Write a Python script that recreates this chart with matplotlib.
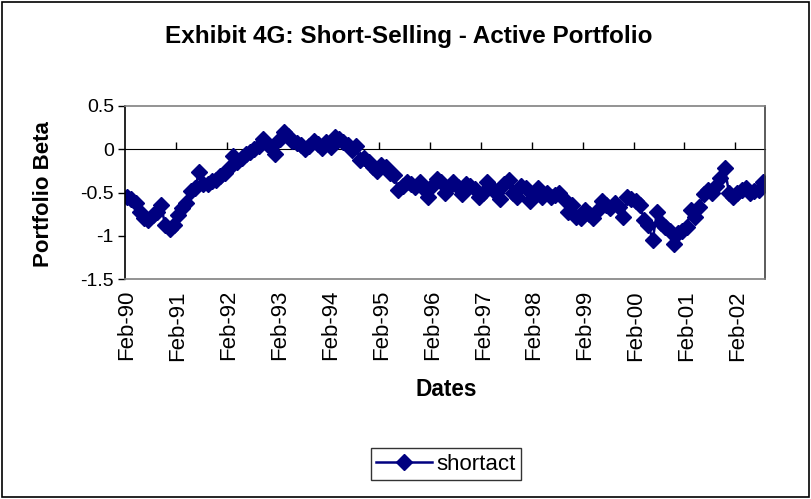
import matplotlib
matplotlib.use("Agg")
import matplotlib.pyplot as plt
from matplotlib.patches import Rectangle
import numpy as np

plt.rcParams['font.family'] = ['Liberation Sans', 'DejaVu Sans']
plt.rcParams['axes.unicode_minus'] = False

title = "Exhibit 4G: Short-Selling - Active Portfolio"
series_name = "shortact"
x_label = "Dates"
y_label = "Portfolio Beta"

# Monthly portfolio beta, Feb-90 .. Aug-02 (151 months)
beta = [
    -0.55, -0.57, -0.62, -0.72, -0.80, -0.82, -0.76, -0.72, -0.65, -0.88, -0.92, -0.88,
    -0.76, -0.68, -0.62, -0.48, -0.45, -0.26, -0.40, -0.40, -0.37, -0.35, -0.31, -0.28,
    -0.22, -0.08, -0.15, -0.10, -0.05, -0.03, 0.00, 0.04, 0.12, 0.06, 0.03, -0.06,
    0.12, 0.20, 0.15, 0.10, 0.07, 0.05, 0.00, 0.04, 0.10, 0.06, 0.02, 0.08,
    0.03, 0.14, 0.12, 0.08, 0.05, -0.01, 0.04, -0.13, -0.10, -0.15, -0.20, -0.25,
    -0.18, -0.20, -0.27, -0.30, -0.47, -0.42, -0.38, -0.40, -0.44, -0.38, -0.46, -0.55,
    -0.42, -0.34, -0.38, -0.50, -0.44, -0.38, -0.44, -0.52, -0.40, -0.42, -0.46, -0.55,
    -0.50, -0.38, -0.45, -0.50, -0.58, -0.40, -0.35, -0.50, -0.55, -0.42, -0.45, -0.60,
    -0.50, -0.45, -0.55, -0.50, -0.55, -0.53, -0.50, -0.58, -0.72, -0.65, -0.78, -0.80,
    -0.70, -0.75, -0.80, -0.70, -0.60, -0.65, -0.68, -0.62, -0.67, -0.78, -0.55, -0.58,
    -0.60, -0.65, -0.82, -0.88, -1.05, -0.73, -0.85, -0.90, -0.95, -1.10, -0.97, -0.95,
    -0.90, -0.70, -0.78, -0.67, -0.52, -0.47, -0.50, -0.42, -0.33, -0.22, -0.50, -0.55,
    -0.50, -0.47, -0.45, -0.50, -0.48, -0.47, -0.38,
]
tick_labels = ["Feb-90", "Feb-91", "Feb-92", "Feb-93", "Feb-94", "Feb-95", "Feb-96",
               "Feb-97", "Feb-98", "Feb-99", "Feb-00", "Feb-01", "Feb-02"]
y_ticks = [0.5, 0, -0.5, -1, -1.5]
y_tick_labels = ["0.5", "0", "-0.5", "-1", "-1.5"]

navy = "#000080"

fig = plt.figure(figsize=(8.11, 4.99), dpi=100)
fig.patches.append(Rectangle((0.003, 0.005), 0.994, 0.99, transform=fig.transFigure,
                             fill=False, edgecolor='black', linewidth=1.2))
ax = fig.add_axes([125/811, 1-279/499, 640/811, 173/499])

x = np.arange(len(beta))
line, = ax.plot(x, beta, color=navy, lw=1.8, marker='D', markersize=8.4,
                markerfacecolor=navy, markeredgecolor=navy, label=series_name)

ax.set_xlim(-0.5, len(beta) - 0.5)
ax.set_ylim(-1.5, 0.5)
ax.set_yticks(y_ticks)
ax.set_yticklabels(y_tick_labels, fontsize=14)
ax.tick_params(axis='y', direction='out', length=5, width=1, pad=3, color='black')

ax.set_xticks(np.arange(0, len(beta), 12))
ax.set_xticklabels(tick_labels, rotation=90, fontsize=16)
ax.tick_params(axis='x', length=0, pad=8)

for side in ['top', 'bottom', 'right']:
    ax.spines[side].set_color('#808080')
    ax.spines[side].set_linewidth(1.2)
ax.spines['right'].set_color('#404040')
ax.spines['left'].set_color('black')
ax.spines['left'].set_linewidth(1.2)

# category axis crossing at zero
sec = ax.secondary_xaxis(0.75)
sec.set_xticks(np.arange(11.5, len(beta), 12))
sec.set_xticklabels([])
sec.tick_params(direction='out', length=5, width=1, color='black')
sec.spines['bottom'].set_color('#555555')
sec.spines['bottom'].set_linewidth(1.2)

fig.text(409/811, 1-37/499, title, ha='center', va='center', fontsize=17.5, fontweight='bold')
fig.text(446/811, 1-389/499, x_label, ha='center', va='center', fontsize=16.3, fontweight='bold')
fig.text(44/811, 1-194/499, y_label, ha='center', va='center', rotation=90,
         fontsize=16, fontweight='bold')

leg = fig.legend(handles=[line], loc='center', bbox_to_anchor=(446/811, 1-464/499),
                 fontsize=16, frameon=True, fancybox=False, edgecolor='black',
                 handlelength=2.5, borderpad=0.25, handletextpad=0.2)
leg.get_frame().set_linewidth(1.0)

fig.savefig("out.png", dpi=100)
